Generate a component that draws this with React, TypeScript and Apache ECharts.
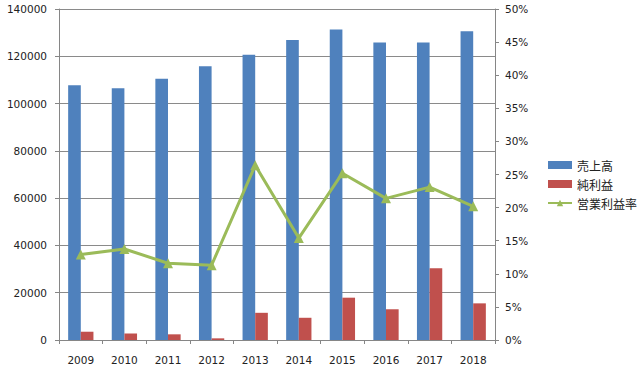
import React, { useEffect, useRef } from "react";
import * as echarts from "echarts";

const years = ["2009", "2010", "2011", "2012", "2013", "2014", "2015", "2016", "2017", "2018"];
const sales = [107800, 106500, 110500, 115800, 120600, 126900, 131300, 125800, 125800, 130600];
const netProfit = [3500, 2800, 2400, 700, 11500, 9400, 17900, 13000, 30300, 15500];
const opMargin = [0.129, 0.1375, 0.116, 0.113, 0.264, 0.154, 0.252, 0.214, 0.231, 0.202];
const seriesNames = ["売上高", "純利益", "営業利益率"];

export default function App() {
  const ref = useRef<HTMLDivElement>(null);
  useEffect(() => {
    const chart = echarts.init(ref.current!, undefined, { renderer: "svg" });
    const axisColor = "#868686";
    const labelStyle = { color: "#222", fontSize: 10.5, fontFamily: "DejaVu Sans" };
    chart.setOption({
      animation: false,
      backgroundColor: "#fff",
      grid: { left: 59, right: 145, top: 9, bottom: 36, containLabel: false },
      legend: {
        orient: "vertical",
        left: 547,
        top: 159,
        padding: 0,
        itemWidth: 24,
        itemHeight: 8,
        itemGap: 7,
        textStyle: { fontFamily: "Noto Sans CJK JP", fontSize: 12, color: "#222" },
        data: [
          { name: seriesNames[0], icon: "rect" },
          { name: seriesNames[1], icon: "rect" },
          { name: seriesNames[2] },
        ],
      },
      xAxis: {
        type: "category",
        data: years,
        boundaryGap: true,
        axisLine: { lineStyle: { color: axisColor } },
        axisTick: { show: true, length: 4, lineStyle: { color: axisColor } },
        axisLabel: { ...labelStyle, margin: 14 },
      },
      yAxis: [
        {
          type: "value",
          min: 0,
          max: 140000,
          interval: 20000,
          axisLine: { show: true, lineStyle: { color: axisColor } },
          axisTick: { show: true, length: 4, lineStyle: { color: axisColor } },
          axisLabel: { ...labelStyle, margin: 12, formatter: (v: number) => String(v) },
          splitLine: { show: true, lineStyle: { color: "#8a8a8a", width: 1 } },
        },
        {
          type: "value",
          min: 0,
          max: 0.5,
          interval: 0.05,
          position: "right",
          axisLine: { show: true, lineStyle: { color: axisColor } },
          axisTick: { show: true, length: 4, lineStyle: { color: axisColor } },
          axisLabel: {
            ...labelStyle,
            margin: 10,
            formatter: (v: number) => Math.round(v * 100) + "%",
          },
          splitLine: { show: false },
        },
      ],
      series: [
        {
          name: seriesNames[0],
          type: "bar",
          data: sales,
          barWidth: "29%",
          barGap: "0%",
          itemStyle: { color: "#4F81BD" },
        },
        {
          name: seriesNames[1],
          type: "bar",
          data: netProfit,
          barWidth: "29%",
          barGap: "0%",
          itemStyle: { color: "#C0504D" },
        },
        {
          name: seriesNames[2],
          type: "line",
          yAxisIndex: 1,
          data: opMargin,
          symbol: "triangle",
          symbolSize: 10,
          lineStyle: { color: "#9BBB59", width: 3 },
          itemStyle: { color: "#9BBB59" },
          z: 5,
        },
      ],
    });
    return () => chart.dispose();
  }, []);
  return (
    <div
      ref={ref}
      style={{ position: "fixed", left: 0, top: 0, width: 640, height: 376 }}
    />
  );
}
